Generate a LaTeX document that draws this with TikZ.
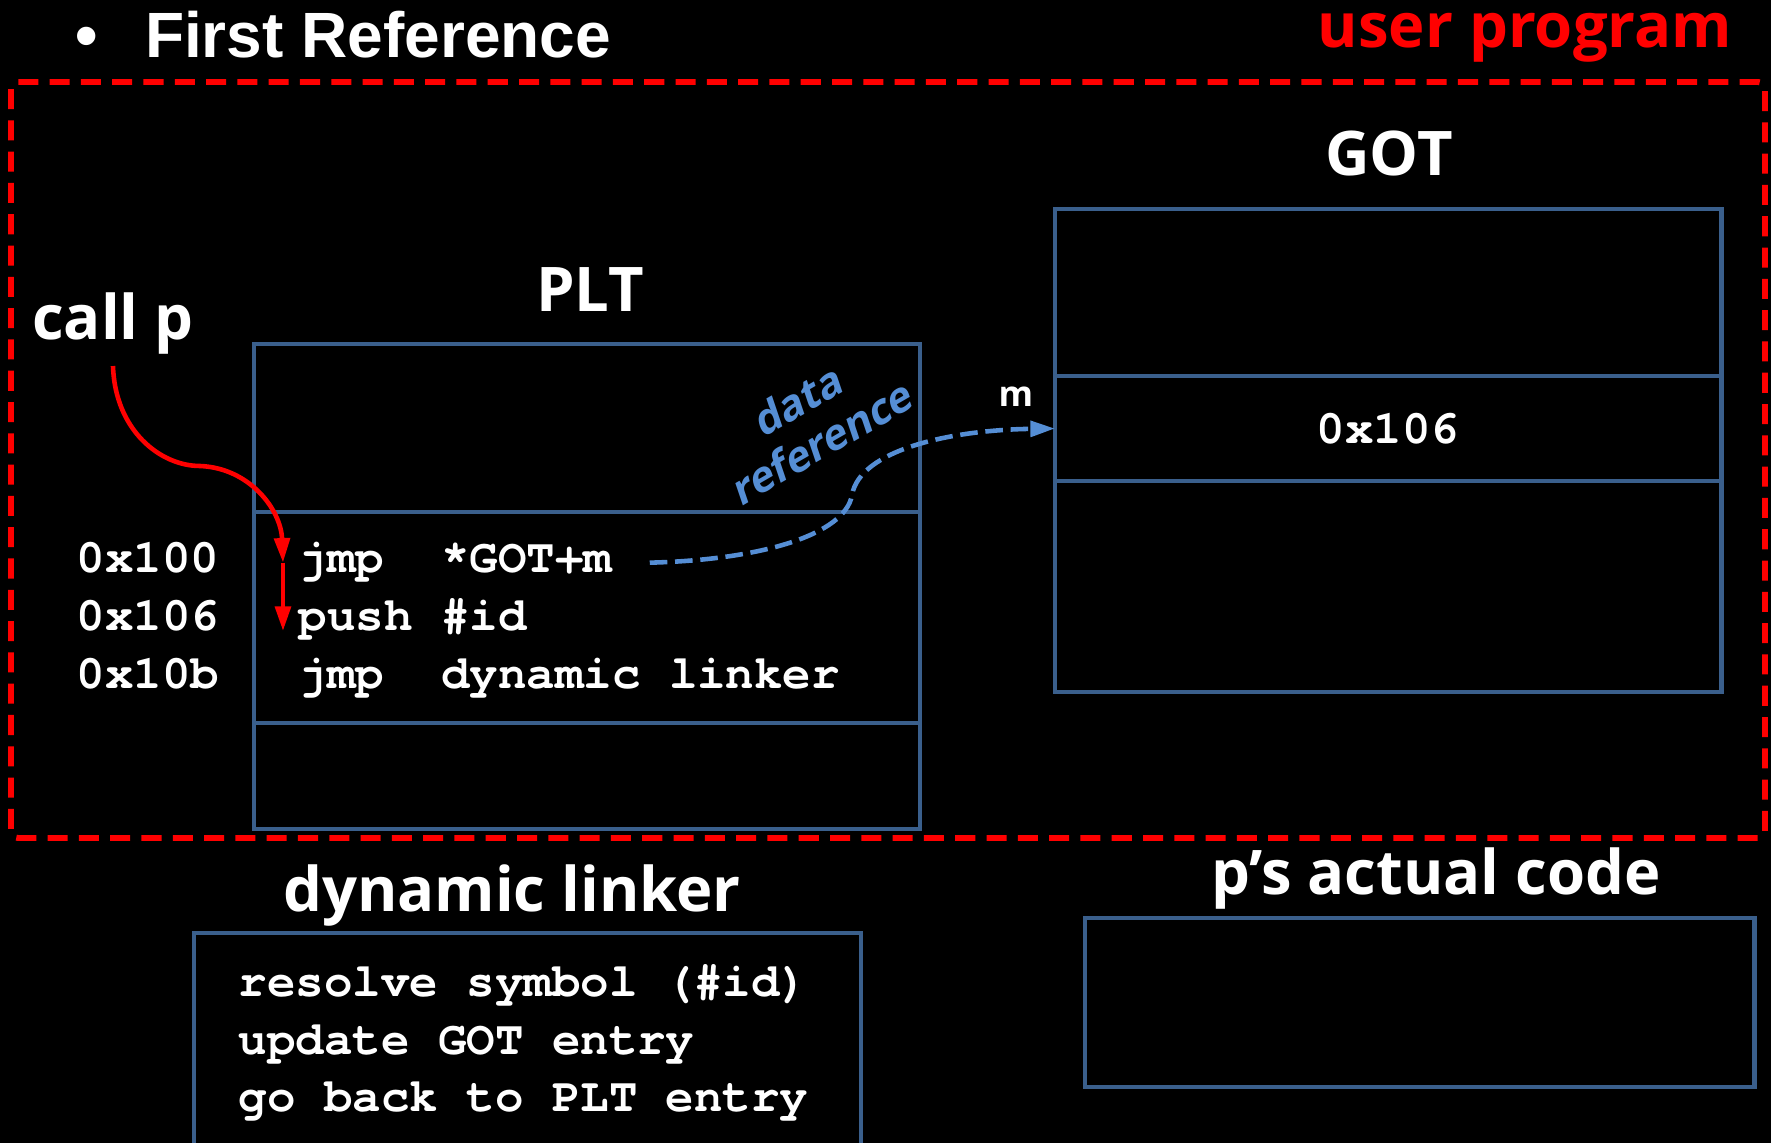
\documentclass[tikz,border=0pt]{standalone}
\usepackage{fontspec}
\setmainfont{Liberation Sans}
\setmonofont{TeX Gyre Cursor}
\newfontfamily\headfont{Open Sans}
\newfontfamily\slantfont{Open Sans}[FakeSlant=0.2]
\usetikzlibrary{arrows.meta}
\definecolor{boxblue}{RGB}{58,95,140}
\definecolor{refblue}{RGB}{85,142,213}
\tikzset{
  heading/.style={anchor=base, inner sep=3pt, text=white,
                  font=\headfont\bfseries\fontsize{17.5}{21}\selectfont},
  cell/.style={draw=boxblue, line width=1.2pt, anchor=north west,
               inner sep=0pt, outer sep=0pt, minimum width=6.66cm,
               text=white, font=\ttfamily\bfseries\fontsize{13.5}{16}\selectfont},
  code/.style={anchor=base west, inner sep=0pt, text=white,
               font=\ttfamily\bfseries\fontsize{13.5}{16}\selectfont},
  userbox/.style={draw=red, line width=1.7pt, dash pattern=on 5.7pt off 3.2pt},
  callarrow/.style={draw=red, line width=1.3pt,
                    -{Triangle[length=7pt,width=4.4pt]}},
  dataref/.style={draw=refblue, line width=1.3pt, dash pattern=on 5pt off 2.2pt,
                  -{Triangle[length=7pt,width=4.4pt]}}
}
\begin{document}
\begin{tikzpicture}[x=0.01cm, y=-0.01cm]
\path[clip] (0,0) rectangle (1771,1143);
\fill[black] (0,0) rectangle (1771,1143);

% headings
\node[anchor=base west, inner sep=0pt, text=white,
      font=\bfseries\fontsize{18.2}{21}\selectfont] (title) at (75,58)
      {\textbullet\hspace{0.47cm}First Reference};
\node[heading, text=red] (userprog) at (1525,48) {user program};
\node[heading] (pltlabel) at (590,312) {PLT};
\node[heading] (gotlabel) at (1389,176) {GOT};
\node[heading] (callp) at (113,340) {call p};
\node[heading] (linkerlabel) at (512,912) {dynamic linker};
\node[heading] (codelabel) at (1436,895) {p’s actual code};

% user program frame
\draw[userbox, rounded corners=2pt] (11,82) rectangle (1765,838);

% PLT
\node[cell, minimum height=1.68cm] (pltA) at (254,344) {};
\node[cell, minimum height=2.11cm] (pltB) at (254,512) {};
\node[cell, minimum height=1.06cm] (pltC) at (254,723) {};
\foreach \i/\addr/\ins/\y in {1/0x100/jmp~~*GOT+m/573,
                              2/0x106/push~\#id/631,
                              3/0x10b/jmp~~dynamic~linker/689}{
  \node[code] (addr\i) at (76,\y) {\addr};
  \node[code] (ins\i) at (298,\y) {\ins};
}

% GOT
\node[cell, minimum height=1.67cm] (gotA) at (1055,209) {};
\node[cell, minimum height=1.05cm] (gotB) at (1055,376) {0x106};
\node[cell, minimum height=2.11cm] (gotC) at (1055,481) {};
\node[anchor=base, inner sep=0pt, text=white,
      font=\headfont\bfseries\fontsize{10}{12}\selectfont] (mlabel) at (1016,407) {m};

% dynamic linker and p's code
\node[cell, minimum width=6.67cm, minimum height=2.6cm] (linker) at (194,933) {};
\foreach \i/\txt/\y in {1/resolve~symbol~(\#id)/997,
                        2/update~GOT~entry/1055,
                        3/go~back~to~PLT~entry/1112}
  \node[code] (linkline\i) at (238,\y) {\txt};
\node[cell, minimum width=6.69cm, minimum height=1.69cm] (pcode) at (1085,918) {};

% data reference
\node[rotate=30, align=center, text=refblue, inner sep=0pt,
      font=\slantfont\bfseries\fontsize{12}{13.7}\selectfont]
      (dreflabel) at (808,422) {data\\reference};

% arrows
\draw[callarrow] (callp.south) .. controls (115,430) and (160,466) .. (200,466)
   .. controls (250,468) and (281,510) .. ([xshift=-0.15cm]ins1.west);
\draw[callarrow] ([xshift=-0.15cm]ins1.west) -- ([xshift=-0.15cm]ins2.base west);
\draw[dataref] ([xshift=0.37cm]ins1.east) .. controls (760,560) and (845,535) .. (852,495)
   .. controls (860,450) and (950,430) .. (gotB.west);
\end{tikzpicture}
\end{document}
